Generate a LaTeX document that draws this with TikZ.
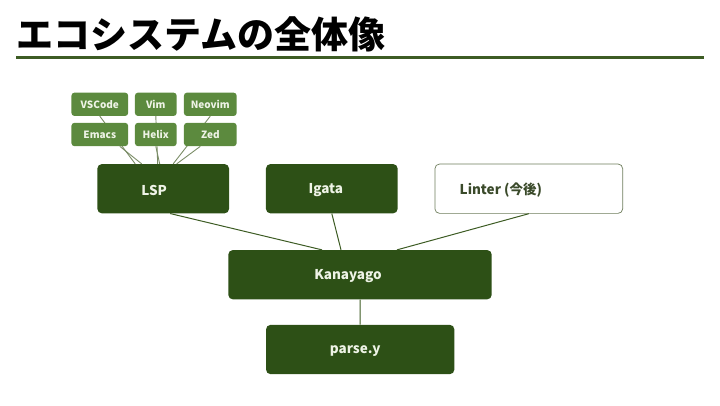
\documentclass[tikz,border=0pt]{standalone}
\usepackage{fontspec}
\setmainfont{Noto Sans CJK JP}
\newfontfamily\cjk{Noto Sans CJK JP}
\usetikzlibrary{calc}
\definecolor{darkg}{HTML}{2D5016}
\definecolor{midg}{HTML}{5C8A3E}
\definecolor{lineg}{HTML}{3D5C24}
\definecolor{edline}{HTML}{7A8C66}
\definecolor{txtl}{HTML}{EEF3E6}
\definecolor{bordg}{HTML}{6E7D5C}
\definecolor{ltxt}{HTML}{3A4A2A}
\tikzset{
  edbox/.style={draw=none, fill=midg, rounded corners=3pt, minimum width=#1, minimum height=23.3pt, inner sep=0pt, text=txtl, font=\cjk\bfseries\fontsize{10}{11}\selectfont},
  mainbox/.style={fill=darkg, rounded corners=4.5pt, minimum height=49.3pt, minimum width=#1, inner sep=0pt},
  mainlbl/.style={text=txtl, font=\cjk\bfseries\fontsize{13.5}{15}\selectfont, inner sep=0pt},
  conn/.style={draw=lineg, line width=1pt},
  edconn/.style={draw=edline, line width=0.9pt},
}
\begin{document}
\begin{tikzpicture}[x=1pt,y=-1pt]
\useasboundingbox (0,0) rectangle (720,405);
% title
\node[anchor=west, inner sep=0pt, font=\cjk\bfseries\fontsize{37}{40}\selectfont] (title) at (16,34) {エコシステムの全体像};
\coordinate (rl) at (16,57.5);
\coordinate (rr) at (704,57.5);
\draw[lineg, line width=3pt] (rl) -- (rr);
% editor nodes (top row)
\node[edbox=56.7pt] (vscode) at (99.8,104.3) {VSCode};
\node[edbox=41.7pt] (vim) at (155.8,104.3) {Vim};
\node[edbox=52.7pt] (neovim) at (210.3,104.3) {Neovim};
% main boxes
\node[mainbox=131.7pt] (lsp) at (163.2,188.7) {};
\node[mainbox=131.7pt] (igata) at (331.8,188.7) {};
\node[mainbox=187.7pt, fill=white, draw=bordg, line width=0.7pt] (linter) at (528.8,188.7) {};
\node[mainbox=263.4pt] (kana) at (360,274.7) {};
\node[mainbox=188.3pt] (parse) at (360.2,349.5) {};
\node[mainlbl] (lsptxt) at ($(lsp.center)+(-9,1.5)$) {LSP};
\node[mainlbl] (igatatxt) at ($(igata.center)+(-6,1.5)$) {Igata};
\node[mainlbl, text=ltxt] (lintertxt) at ($(linter.center)+(-28,1.5)$) {Linter (今後)};
\node[mainlbl] (kanatxt) at ($(kana.center)+(-12,1.5)$) {Kanayago};
\node[mainlbl] (parsetxt) at ($(parse.center)+(-5,1.5)$) {parse.y};
% editor connectors
\coordinate (l1) at ($(lsp.north)+(-28,0)$);
\coordinate (l2) at ($(lsp.north)+(-21.5,0)$);
\coordinate (l3) at ($(lsp.north)+(-5.5,0)$);
\coordinate (l4) at ($(lsp.north)+(-3.5,0)$);
\coordinate (l5) at ($(lsp.north)+(10,0)$);
\coordinate (l6) at ($(lsp.north)+(13.5,0)$);
\draw[edconn] (vscode.south) -- (l1);
\draw[edconn] (vim.south) -- (l3);
\draw[edconn] (neovim.south) -- (l5);
% editor nodes (bottom row, in front of passing lines)
\node[edbox=56.7pt] (emacs) at (99.8,134.5) {Emacs};
\node[edbox=41.7pt] (helix) at (155.8,134.5) {Helix};
\node[edbox=52.7pt] (zed) at (210.3,134.5) {Zed};
\draw[edconn] ($(emacs.south)+(20,0)$) -- (l2);
\draw[edconn] (helix.south) -- (l4);
\draw[edconn] ($(zed.south)+(-10,0)$) -- (l6);
% main connectors
\coordinate (k1) at ($(kana.north)+(-38,0)$);
\coordinate (k2) at ($(kana.north)+(-19,0)$);
\coordinate (k3) at ($(kana.north)+(37,0)$);
\draw[conn] ($(lsp.south)+(7,0)$) -- (k1);
\draw[conn] (igata.south) -- (k2);
\draw[conn] (linter.south) -- (k3);
\draw[conn] (kana.south) -- (parse.north);
\end{tikzpicture}
\end{document}
